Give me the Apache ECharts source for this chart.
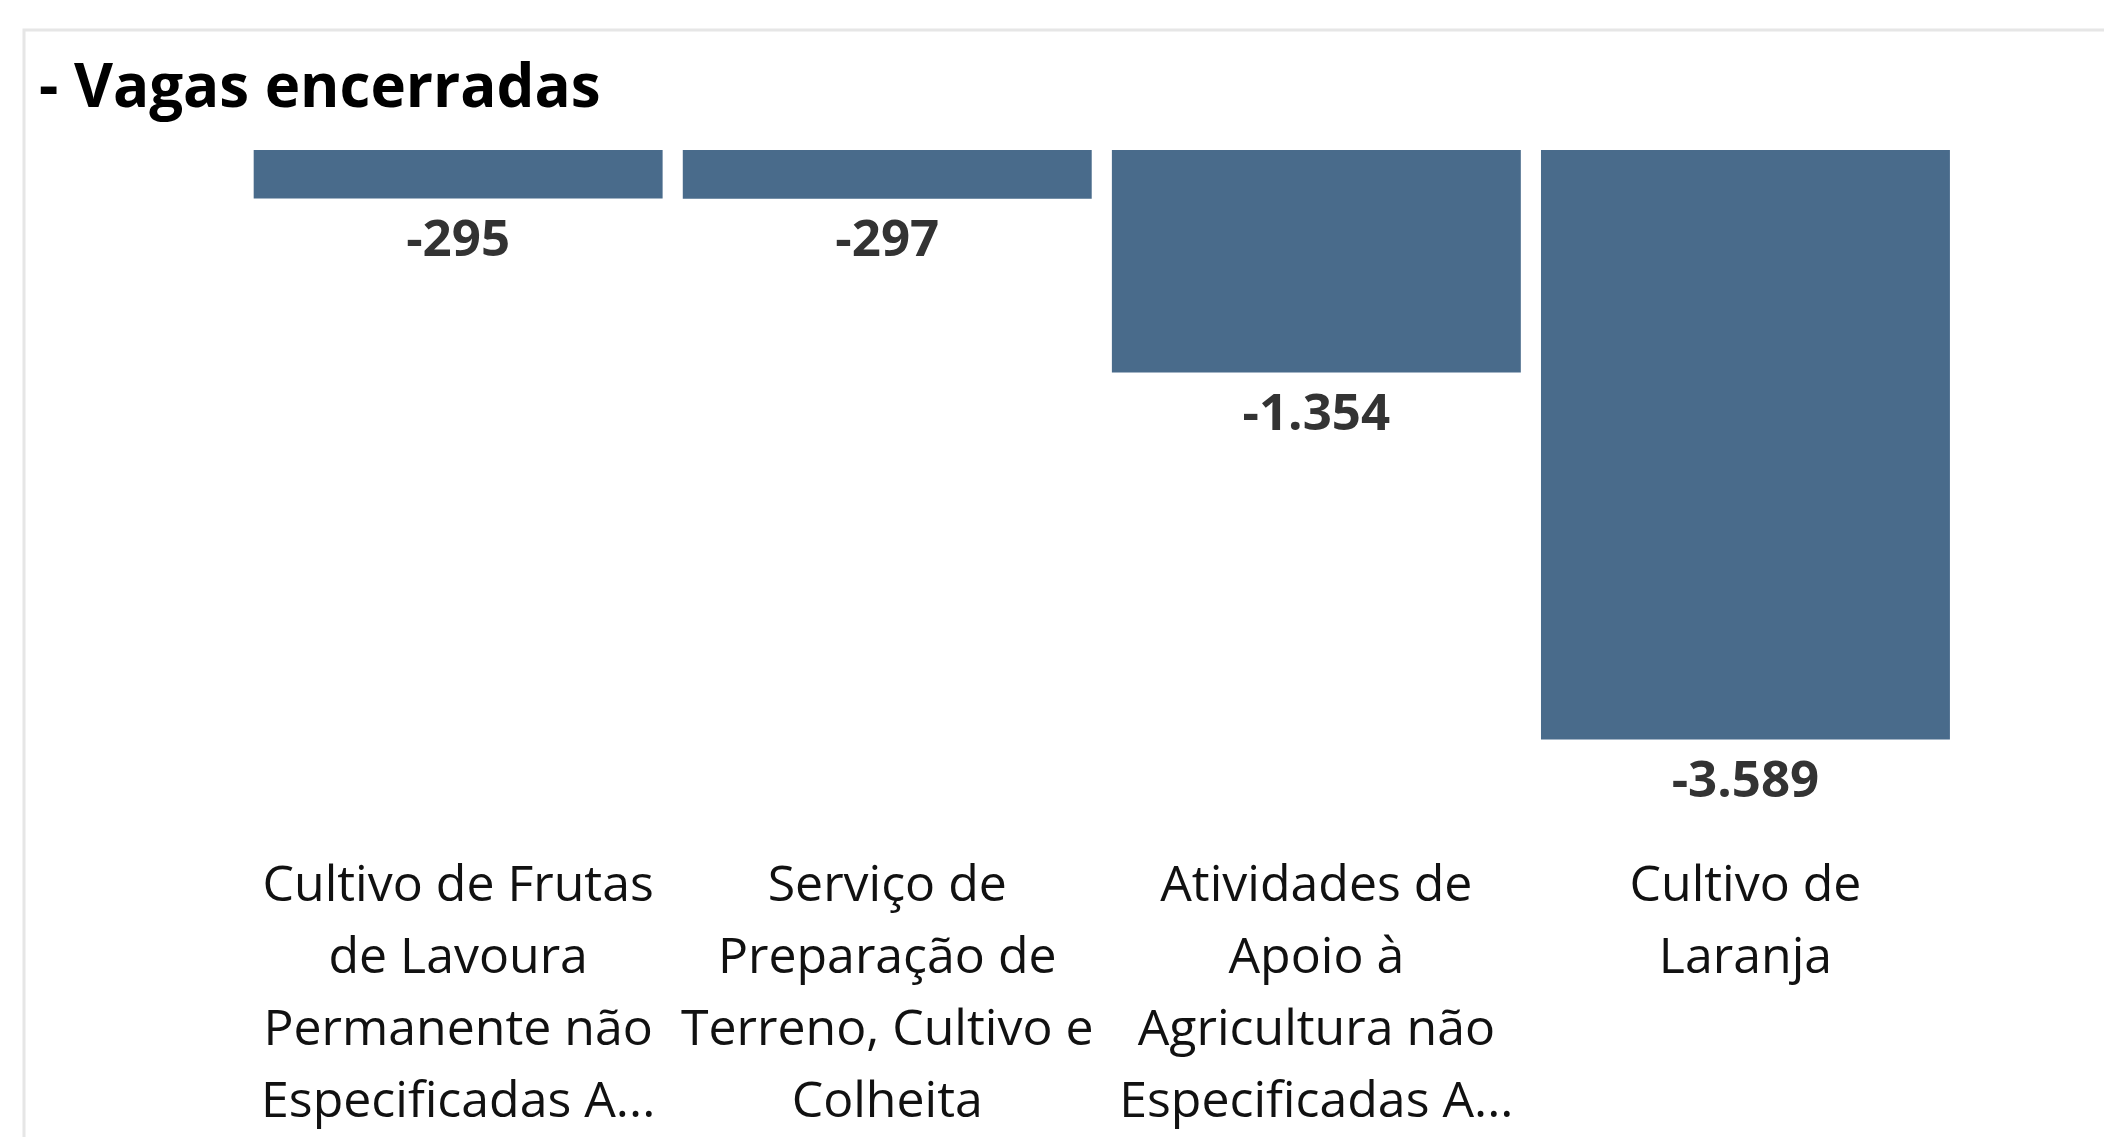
<!DOCTYPE html>
<html lang="pt-BR">
  <head>
    <meta charset="UTF-8" />
    <title>Vagas encerradas</title>
    <script src="https://cdn.jsdelivr.net/npm/echarts@6/dist/echarts.min.js"></script>
    <style>
      html, body { margin: 0; padding: 0; background: #fff; }
      #chart { width: 2104px; height: 1137px; }
    </style>
  </head>
  <body>
    <div id="chart"></div>

    <script>
      // categorias como aparecem no eixo (quebradas e cortadas como no original)
      const categories = [
        "Cultivo de Frutas\nde Lavoura\nPermanente não\nEspecificadas A...",
        "Serviço de\nPreparação de\nTerreno, Cultivo e\nColheita",
        "Atividades de\nApoio à\nAgricultura não\nEspecificadas A...",
        "Cultivo de\nLaranja",
      ];
      const values = [-295, -297, -1354, -3589];

      const fmt = (v) => {
        const s = String(Math.abs(v)).replace(/\B(?=(\d{3})+(?!\d))/g, ".");
        return (v < 0 ? "-" : "") + s;
      };

      const chart = echarts.init(document.getElementById("chart"));
      chart.setOption({
        animation: false,
        textStyle: { fontFamily: "Open Sans" },
        graphic: [
          {
            type: "rect",
            shape: { x: 24, y: 30, width: 2200, height: 1200 },
            style: { fill: "#fff", stroke: "#e6e6e6", lineWidth: 3 },
            z: -10,
          },
        ],
        title: {
          text: "- Vagas encerradas",
          left: 34,
          top: 49,
          textStyle: {
            fontFamily: "Open Sans",
            fontWeight: "bold",
            fontSize: 60,
            color: "#000",
            lineHeight: 72,
          },
        },
        grid: {
          left: 243.6,
          right: 144,
          top: 150,
          height: 589.5,
          outerBoundsMode: "none",
        },
        xAxis: {
          type: "category",
          data: categories,
          axisLine: { show: false, onZero: false },
          axisTick: { show: false },
          axisLabel: {
            interval: 0,
            margin: 111,
            fontSize: 50,
            lineHeight: 72,
            color: "#111",
            verticalAlign: "top",
            align: "center",
          },
        },
        yAxis: {
          type: "value",
          min: -3589,
          max: 0,
          show: false,
          splitLine: { show: false },
        },
        series: [
          {
            type: "bar",
            data: values,
            barCategoryGap: "4.7%",
            itemStyle: { color: "#496b8b" },
            label: {
              show: true,
              position: "bottom",
              distance: 17,
              fontSize: 51,
              lineHeight: 52,
              fontWeight: "bold",
              color: "#333",
              formatter: (p) => fmt(p.value),
            },
          },
        ],
      });
    </script>
  </body>
</html>
